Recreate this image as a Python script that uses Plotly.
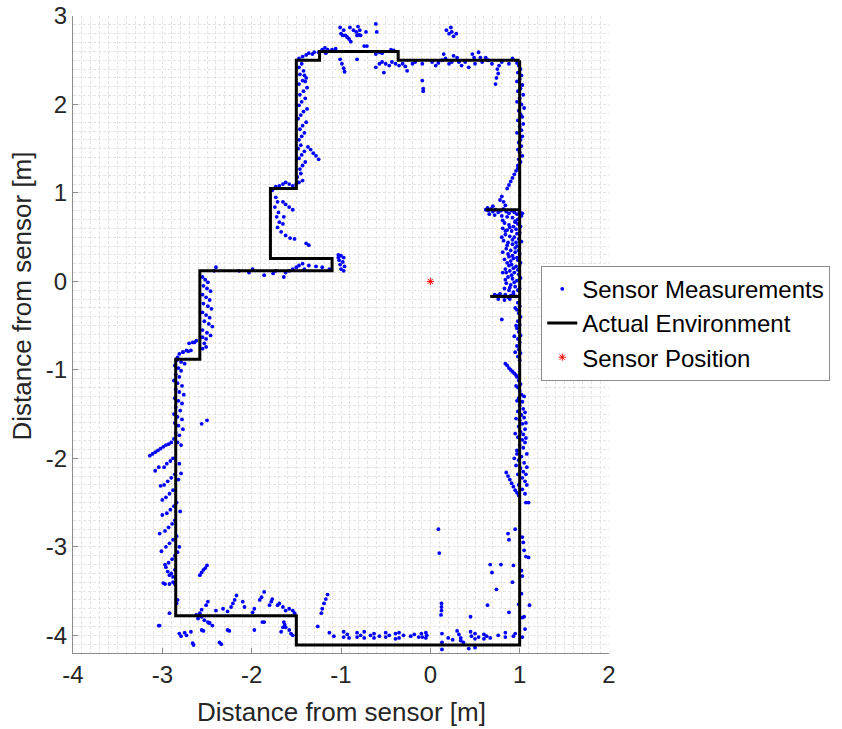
import plotly.graph_objects as go

# ---------------- data ----------------
# Actual environment outline (metres); None separates pieces
env_x = [1.0, 1.0, -1.5, -1.5, -2.85, -2.85, -2.58, -2.58, -1.1, -1.1, -1.79, -1.79, -1.5, -1.5, -1.24, -1.24, -0.36, -0.36, 1.0,
         None, 0.62, 1.0, None, 0.67, 1.0]
env_y = [2.5, -4.11, -4.11, -3.78, -3.78, -0.88, -0.88, 0.12, 0.12, 0.26, 0.26, 1.05, 1.05, 2.5, 2.5, 2.6, 2.6, 2.5, 2.5,
         None, 0.81, 0.81, None, -0.17, -0.17]

sensor_x = [0.0]
sensor_y = [0.0]

# axis ticks
x_ticks = [-4, -3, -2, -1, 0, 1, 2]
x_tick_labels = ["-4", "-3", "-2", "-1", "0", "1", "2"]
y_ticks = [-4, -3, -2, -1, 0, 1, 2, 3]
y_tick_labels = ["-4", "-3", "-2", "-1", "0", "1", "2", "3"]

# Sensor measurements, grouped by region: (x, y) in metres
meas_top = [
    (-1.01, 2.87), (-0.97, 2.84), (-0.90, 2.87), (-0.86, 2.84), (-0.81, 2.88), (-0.79, 2.84), (-0.72, 2.82),
    (-0.61, 2.91), (-0.60, 2.82), (-1.00, 2.80), (-0.98, 2.78), (-0.95, 2.78), (-0.93, 2.76), (-0.91, 2.74),
    (-0.89, 2.71), (-0.82, 2.78), (-0.80, 2.79), (-0.78, 2.78), (-0.83, 2.82),
    (0.18, 2.84), (0.23, 2.87), (0.24, 2.82), (0.21, 2.80), (0.29, 2.80), (0.26, 2.77),
    (-1.47, 2.52), (-1.43, 2.54), (-1.39, 2.56), (-1.36, 2.58), (-1.32, 2.57), (-1.30, 2.59), (-1.25, 2.59),
    (-1.21, 2.62), (-1.18, 2.64), (-1.15, 2.62), (-1.17, 2.58), (-1.10, 2.62), (-1.06, 2.63),
    (-0.74, 2.66), (-0.71, 2.66), (-0.61, 2.57), (-0.57, 2.59), (-0.54, 2.58), (-0.44, 2.62), (-0.41, 2.61),
    (-1.01, 2.51), (-0.99, 2.46), (-0.97, 2.41), (-0.96, 2.37), (-0.82, 2.51), (-0.61, 2.42), (-0.57, 2.46),
    (-0.54, 2.48), (-0.50, 2.46), (-0.52, 2.36), (-0.46, 2.44), (-0.43, 2.48), (-0.39, 2.46), (-0.35, 2.44),
    (-0.31, 2.46), (-0.28, 2.43), (-0.26, 2.38), (-0.20, 2.46), (-0.17, 2.48), (-0.09, 2.46), (-0.09, 2.27),
    (-0.08, 2.18), (-0.08, 2.15),
    (0.02, 2.48), (0.06, 2.44), (0.09, 2.47), (0.13, 2.50), (0.15, 2.57), (0.17, 2.52), (0.21, 2.46),
    (0.24, 2.48), (0.26, 2.55), (0.30, 2.53), (0.32, 2.48), (0.35, 2.44), (0.39, 2.48), (0.43, 2.42),
    (0.47, 2.57), (0.49, 2.53), (0.50, 2.46), (0.54, 2.59), (0.56, 2.53), (0.58, 2.48), (0.62, 2.53),
    (0.65, 2.50), (0.69, 2.46), (0.75, 2.40), (0.76, 2.35), (0.73, 2.23), (0.80, 2.48), (0.88, 2.46),
    (0.74, 2.30), (0.77, 2.44), (0.92, 2.52),
]

meas_right = [
    (0.97, 2.47), (0.99, 2.44), (1.01, 2.40), (0.98, 2.36), (1.02, 2.33), (1.00, 2.29), (0.97, 2.26),
    (1.03, 2.22), (1.01, 2.18), (0.98, 2.15), (1.04, 2.11), (1.00, 2.07), (0.97, 2.03), (1.02, 2.00),
    (1.05, 1.96), (0.99, 1.93), (1.01, 1.89), (1.03, 1.86), (0.98, 1.82), (1.04, 1.78), (1.00, 1.75),
    (1.02, 1.71), (0.97, 1.68), (1.03, 1.64), (1.01, 1.60), (0.99, 1.57), (1.02, 1.53), (0.98, 1.49),
    (1.00, 1.46), (1.03, 1.42), (0.99, 1.38), (1.01, 1.35), (0.98, 1.31),
    (0.98, 1.28), (0.96, 1.25), (0.94, 1.21), (0.92, 1.17), (0.90, 1.13), (0.88, 1.09), (0.86, 1.05),
    (0.80, 0.96), (0.78, 0.92), (0.82, 0.90),
    (0.62, 0.81), (0.65, 0.80), (0.68, 0.82), (0.70, 0.79), (0.73, 0.81), (0.76, 0.78), (0.79, 0.80),
    (0.82, 0.82), (0.85, 0.79), (0.88, 0.77), (0.91, 0.80), (0.94, 0.78), (0.97, 0.76), (1.00, 0.79),
    (1.03, 0.77), (0.66, 0.76), (0.72, 0.75), (0.80, 0.74), (0.86, 0.73), (0.92, 0.72), (0.98, 0.70),
    (0.70, 0.85), (0.64, 0.83), (0.84, 0.86), (1.02, 0.74), (0.95, 0.68),
    (0.83, 0.66), (0.88, 0.64), (0.93, 0.62), (0.98, 0.65), (0.81, 0.60), (0.86, 0.58), (0.91, 0.57),
    (0.96, 0.59), (1.00, 0.55), (0.84, 0.53), (0.89, 0.51), (0.94, 0.50), (0.99, 0.48), (0.82, 0.46),
    (0.87, 0.44), (0.92, 0.42), (0.97, 0.40), (0.85, 0.37), (0.90, 0.35), (0.95, 0.33), (1.00, 0.31),
    (0.88, 0.28), (0.93, 0.26), (0.98, 0.24), (0.86, 0.21), (0.91, 0.19), (0.96, 0.17), (0.84, 0.14),
    (0.89, 0.12), (0.94, 0.10), (0.99, 0.08), (0.87, 0.05), (0.92, 0.03), (0.97, 0.01), (0.85, -0.02),
    (0.90, -0.04), (0.95, -0.06), (1.00, -0.08), (0.88, -0.10), (0.93, -0.12),
    (0.81, 0.69), (0.95, 0.67), (0.89, 0.61), (1.01, 0.62), (0.84, 0.57), (0.97, 0.54), (0.80, 0.50),
    (0.92, 0.47), (1.02, 0.45), (0.86, 0.41), (0.95, 0.38), (0.81, 0.33), (0.99, 0.35), (0.87, 0.31),
    (0.92, 0.29), (0.97, 0.27), (0.83, 0.25), (1.01, 0.21), (0.88, 0.18), (0.93, 0.15), (0.98, 0.13),
    (0.81, 0.10), (0.91, 0.07), (1.01, 0.04), (0.84, 0.02), (0.94, -0.01), (0.89, -0.07), (0.98, -0.10),
    (0.83, -0.08), (0.96, 0.44), (0.90, 0.23), (0.85, 0.10),
    (0.72, -0.15), (0.75, -0.16), (0.78, -0.14), (0.81, -0.17), (0.84, -0.15), (0.87, -0.18), (0.90, -0.16),
    (0.93, -0.14), (0.96, -0.17), (0.76, -0.20), (0.83, -0.21), (0.89, -0.20),
    (0.98, -0.24), (1.00, -0.28), (0.97, -0.32), (0.99, -0.36), (0.80, -0.43), (1.01, -0.40), (0.98, -0.45),
    (1.00, -0.49), (0.97, -0.53), (0.99, -0.57), (1.01, -0.61), (0.98, -0.65), (1.00, -0.69), (0.97, -0.73),
    (0.99, -0.77), (1.01, -0.81), (0.98, -0.85), (1.00, -0.89),
    (0.95, -0.30), (0.96, -0.50), (0.94, -0.62), (0.95, -0.80),
    (0.84, -0.93), (0.86, -0.95), (0.88, -0.98), (0.90, -1.00), (0.92, -1.02), (0.94, -1.04), (0.96, -1.06),
    (0.97, -1.08),
    (0.99, -1.12), (1.01, -1.16), (0.98, -1.20), (1.00, -1.24), (1.02, -1.28), (0.99, -1.32), (1.03, -1.36),
    (1.00, -1.40), (1.04, -1.44), (0.98, -1.47), (1.02, -1.51), (1.05, -1.54), (1.00, -1.57), (1.03, -1.61),
    (0.99, -1.64), (1.06, -1.67), (1.01, -1.70), (1.04, -1.73), (0.98, -1.76), (1.03, -1.79), (1.06, -1.82),
    (1.00, -1.85), (1.04, -1.88), (0.97, -1.91),
    (0.96, -1.18), (0.97, -1.35), (1.05, -1.30), (1.06, -1.48), (0.96, -1.55), (1.07, -1.60), (0.95, -1.72),
    (1.07, -1.77), (1.08, -1.95), (0.94, -2.00), (1.08, -2.10), (1.07, -2.18), (1.08, -2.30), (1.06, -2.40),
    (0.97, -1.95), (1.02, -1.98), (0.99, -2.02), (1.05, -2.05), (0.96, -2.08), (1.01, -2.11), (1.04, -2.15),
    (0.98, -2.18), (1.03, -2.22), (1.06, -2.26), (0.99, -2.30), (1.03, -2.35), (1.07, -2.50), (1.10, -2.50),
    (0.85, -2.16), (0.87, -2.20), (0.89, -2.24), (0.91, -2.28), (0.93, -2.32), (0.95, -2.36), (0.97, -2.39),
    (0.99, -2.42),
    (0.95, -2.80), (0.87, -2.85), (0.88, -2.92), (1.03, -2.89), (1.04, -2.95), (1.05, -3.04), (1.07, -3.11),
    (1.10, -3.12), (0.67, -3.20), (0.79, -3.20), (0.69, -3.29), (0.93, -3.21), (1.02, -3.27), (1.03, -3.33),
    (0.74, -3.48), (0.92, -3.40), (1.02, -3.53), (0.64, -3.66), (0.99, -3.65), (1.11, -3.66), (0.88, -3.74),
    (1.03, -3.80), (1.05, -3.79), (1.06, -3.93), (1.03, -4.02),
]

meas_inside = [
    (0.09, -2.80), (0.10, -3.07), (0.125, -3.64), (0.125, -3.68), (0.125, -3.72), (0.12, -3.77), (0.45, -3.79),
]

meas_bottom = [
    (-1.13, -3.97), (-1.08, -4.01), (-0.97, -3.96), (-0.97, -4.02), (-0.93, -3.99), (-0.91, -4.03),
    (-0.82, -3.97), (-0.82, -4.02), (-0.78, -4.00), (-0.74, -3.96), (-0.74, -4.03), (-0.67, -4.00),
    (-0.63, -3.98), (-0.63, -4.03), (-0.57, -4.01), (-0.50, -3.97), (-0.50, -4.02), (-0.46, -4.00),
    (-0.39, -3.98), (-0.39, -4.04), (-0.35, -3.97), (-0.35, -4.03), (-0.30, -4.00), (-0.22, -4.01),
    (-0.18, -3.99), (-0.09, -4.02), (-0.05, -3.97), (-0.05, -4.03), (-0.04, -4.00), (0.13, -3.98),
    (0.13, -4.08), (0.13, -4.16), (0.30, -3.95), (0.32, -3.99), (0.34, -4.03), (0.34, -4.06), (0.37, -4.08),
    (0.45, -3.96), (0.46, -4.01), (0.50, -3.98), (0.50, -4.04), (0.54, -4.02), (0.60, -3.99), (0.60, -4.04),
    (0.63, -4.01), (0.67, -4.03), (0.76, -4.00), (0.84, -3.97), (0.84, -4.02), (0.93, -4.01), (0.95, -3.98),
    (0.43, -4.15), (0.50, -4.14), (0.20, -4.03), (0.25, -4.05), (-0.13, -4.02), (-0.10, -3.98),
    (-1.26, -3.90), (-1.15, -3.54), (-1.17, -3.59), (-1.19, -3.64), (-1.21, -3.70), (-1.22, -3.75),
]

meas_bottom_left = [
    (-2.96, -3.23), (-2.94, -3.28), (-2.92, -3.32), (-2.90, -3.30), (-2.88, -3.34), (-2.86, -3.26),
    (-2.88, -3.40), (-2.92, -3.42), (-2.97, -3.42), (-2.99, -3.41), (-2.86, -3.42),
    (-2.58, -3.32), (-2.56, -3.29), (-2.54, -3.26), (-2.52, -3.24), (-2.50, -3.21),
    (-2.83, -3.60), (-2.84, -3.64), (-2.92, -3.75), (-3.03, -3.89),
    (-2.81, -3.98), (-2.75, -3.97), (-2.68, -3.96), (-2.56, -3.94), (-2.66, -4.09), (-2.47, -3.86),
    (-2.27, -3.94), (-2.36, -4.08), (-1.97, -3.94), (-1.88, -3.85),
    (-2.62, -3.77), (-2.58, -3.75), (-2.56, -3.79), (-2.60, -3.81), (-2.53, -3.83), (-2.49, -3.85),
    (-2.56, -3.71), (-2.51, -3.66), (-2.49, -3.62), (-2.40, -3.72), (-2.32, -3.70), (-2.27, -3.73),
    (-2.23, -3.68), (-2.21, -3.64), (-2.19, -3.60), (-2.17, -3.55), (-2.10, -3.62), (-2.08, -3.68),
    (-1.99, -3.74), (-1.97, -3.70), (-1.91, -3.60), (-1.89, -3.57), (-1.86, -3.51), (-1.80, -3.66),
    (-1.78, -3.62), (-1.77, -3.59), (-1.71, -3.66), (-1.69, -3.64), (-1.65, -3.68), (-1.62, -3.72),
    (-1.58, -3.70), (-1.54, -3.72), (-1.52, -3.75), (-1.64, -3.85), (-1.62, -3.91), (-1.58, -3.94),
    (-1.56, -3.98), (-1.54, -4.00), (-1.67, -3.96),
    (-3.04, -3.89), (-2.79, -4.01), (-2.73, -4.00), (-2.65, -4.11), (-2.54, -3.95), (-2.48, -3.86),
    (-2.44, -3.89), (-2.34, -4.10), (-2.25, -3.95), (-1.86, -3.85), (-1.65, -3.91), (-1.63, -3.88),
]

meas_left = [
    (-2.81, -0.82), (-2.77, -0.80), (-2.71, -0.79), (-2.68, -0.78), (-2.83, -0.86), (-2.84, -0.89),
    (-2.55, -0.63), (-2.51, -0.65), (-2.53, -0.70), (-2.51, -0.74), (-2.55, -0.76), (-2.64, -0.69),
    (-2.86, -0.95), (-2.82, -0.98), (-2.79, -1.01), (-2.85, -1.05), (-2.81, -1.08), (-2.87, -1.12),
    (-2.83, -1.15), (-2.78, -1.18), (-2.85, -1.22), (-2.81, -1.25), (-2.76, -1.28), (-2.86, -1.32),
    (-2.82, -1.35), (-2.78, -1.38), (-2.85, -1.42), (-2.80, -1.46), (-2.87, -1.50), (-2.83, -1.53),
    (-2.78, -1.56), (-2.86, -1.60), (-2.82, -1.63), (-2.77, -1.67), (-2.85, -1.71), (-2.81, -1.74),
    (-2.87, -1.78), (-2.83, -1.82), (-2.79, -1.85),
    (-2.56, -1.61), (-2.50, -1.57),
    (-3.14, -1.97), (-3.11, -1.95), (-3.08, -1.93), (-3.05, -1.91), (-3.02, -1.89), (-2.99, -1.87),
    (-2.96, -1.85), (-2.93, -1.84), (-2.90, -1.82),
    (-2.88, -2.00), (-2.91, -2.03), (-2.95, -2.06), (-2.98, -2.10), (-3.04, -2.10), (-3.08, -2.14),
    (-2.86, -2.18), (-2.90, -2.22), (-2.94, -2.26), (-2.98, -2.30), (-3.02, -2.31),
    (-2.88, -2.36), (-2.92, -2.40), (-2.96, -2.44), (-3.00, -2.47),
    (-2.84, -2.50), (-2.87, -2.54), (-2.91, -2.58), (-2.95, -2.62), (-3.00, -2.64),
    (-2.86, -2.70), (-2.89, -2.74), (-2.93, -2.78), (-2.97, -2.82), (-3.03, -2.85),
    (-2.84, -2.88), (-2.88, -2.92), (-2.92, -2.96), (-2.96, -3.00), (-3.01, -3.05),
    (-2.83, -3.06), (-2.86, -3.10), (-2.89, -3.14), (-2.93, -3.18), (-2.97, -3.20),
    (-2.82, -2.24), (-2.80, -2.60), (-2.81, -3.00), (-2.79, -2.17), (-2.81, -2.06),
]

meas_step = [
    (-2.55, 0.05), (-2.52, 0.02), (-2.49, -0.01), (-2.54, -0.05), (-2.50, -0.08), (-2.46, -0.11),
    (-2.55, -0.15), (-2.51, -0.18), (-2.47, -0.21), (-2.54, -0.25), (-2.49, -0.28), (-2.45, -0.31),
    (-2.55, -0.35), (-2.51, -0.38), (-2.47, -0.41), (-2.53, -0.45), (-2.48, -0.48), (-2.44, -0.51),
    (-2.55, -0.55), (-2.50, -0.58), (-2.46, -0.61),
    (-2.62, -0.67), (-2.66, -0.69), (-2.70, -0.70), (-2.73, -0.78), (-2.77, -0.80), (-2.79, -0.91),
    (-2.75, -0.93),
    (-2.40, 0.16), (-2.42, 0.12), (-2.14, 0.12), (-2.03, 0.10), (-1.99, 0.14), (-1.86, 0.07), (-1.76, 0.09),
    (-1.73, 0.12), (-1.64, 0.05), (-1.62, 0.10), (-1.58, 0.12), (-1.54, 0.14), (-1.50, 0.16), (-1.47, 0.18),
    (-1.43, 0.20), (-1.41, 0.14), (-1.36, 0.18), (-1.28, 0.17), (-1.21, 0.16), (-1.13, 0.14),
    (-1.03, 0.30), (-1.00, 0.29), (-0.97, 0.27), (-1.02, 0.24), (-0.98, 0.22), (-1.01, 0.19), (-0.96, 0.17),
    (-1.00, 0.14), (-0.97, 0.12), (-1.03, 0.27),
    (-1.73, 0.95), (-1.71, 0.90), (-1.74, 0.84), (-1.70, 0.78), (-1.72, 0.73), (-1.69, 0.67), (-1.71, 0.61),
    (-1.67, 0.56), (-1.65, 0.90), (-1.62, 0.87), (-1.58, 0.84), (-1.54, 0.81), (-1.64, 0.73), (-1.65, 0.65),
    (-1.62, 0.52), (-1.57, 0.49), (-1.52, 0.48), (-1.39, 0.43), (-1.36, 0.41),
    (-1.77, 1.03), (-1.73, 1.07), (-1.69, 1.08), (-1.65, 1.10), (-1.62, 1.12), (-1.58, 1.10), (-1.54, 1.08),
    (-1.50, 1.10), (-1.47, 1.12), (-1.43, 1.14), (-1.49, 1.18), (-1.45, 1.22),
]

meas_upper_left = [
    (-1.46, 1.27), (-1.43, 1.31), (-1.40, 1.35), (-1.47, 1.39), (-1.44, 1.43), (-1.41, 1.47), (-1.48, 1.50),
    (-1.45, 1.54), (-1.37, 1.52), (-1.34, 1.49), (-1.31, 1.45), (-1.28, 1.42), (-1.25, 1.38),
    (-1.47, 1.60), (-1.44, 1.64), (-1.41, 1.68), (-1.46, 1.72), (-1.43, 1.76), (-1.39, 1.80), (-1.48, 1.84),
    (-1.45, 1.88), (-1.42, 1.92), (-1.38, 1.95), (-1.47, 1.99), (-1.44, 2.03), (-1.40, 2.07), (-1.46, 2.11),
    (-1.42, 2.15), (-1.38, 2.19), (-1.47, 2.23), (-1.43, 2.27), (-1.39, 2.30), (-1.46, 2.34), (-1.42, 2.38),
    (-1.47, 2.42), (-1.44, 2.46), (-1.41, 2.33), (-1.40, 2.26),
]

# ---------------- build figure ----------------
all_meas = meas_top + meas_right + meas_inside + meas_bottom + meas_bottom_left + meas_left + meas_step + meas_upper_left
meas_x = [p[0] for p in all_meas]
meas_y = [p[1] for p in all_meas]

fig = go.Figure()
fig.add_trace(go.Scatter(
    x=meas_x, y=meas_y, mode="markers", name="Sensor Measurements",
    marker=dict(color="#0000ff", size=3.8, line=dict(width=0)),
))
fig.add_trace(go.Scatter(
    x=env_x, y=env_y, mode="lines", name="Actual Environment",
    line=dict(color="black", width=3), connectgaps=False,
))
fig.add_trace(go.Scatter(
    x=sensor_x, y=sensor_y, mode="markers", name="Sensor Position",
    marker=dict(symbol="asterisk-open", color="red", size=6, line=dict(color="red", width=1)),
))

FONT = "Liberation Sans, Arial, sans-serif"
axis_common = dict(
    showgrid=True, gridcolor="#e4e4e4", gridwidth=1, griddash="3px,2px",
    zeroline=False, showline=True, linecolor="#8c8c8c", linewidth=1,
    ticks="inside", ticklen=5, tickcolor="#8c8c8c",
    tickfont=dict(family=FONT, size=24, color="#262626"),
    mirror=False, automargin=False,
    minor=dict(dtick=0.1, tick0=0, showgrid=True, gridcolor="#e4e4e4", griddash="3px,2px", gridwidth=1, ticks=""),
)

fig.update_layout(
    width=842, height=729,
    margin=dict(l=73, r=231, t=16, b=76),
    paper_bgcolor="white", plot_bgcolor="white",
    font=dict(family=FONT, color="#262626"),
    showlegend=True,
    legend=dict(
        x=0.8736, y=0.608, xanchor="left", yanchor="top",
        bgcolor="white", bordercolor="#8c8c8c", borderwidth=1,
        font=dict(family=FONT, size=24, color="#000000"),
        itemsizing="trace",
    ),
    xaxis=dict(range=[-4, 2], tickvals=x_ticks, ticktext=x_tick_labels, **axis_common),
    yaxis=dict(range=[-4.2, 3], tickvals=y_ticks, ticktext=y_tick_labels, **axis_common),
    annotations=[
        dict(text="Distance from sensor [m]", xref="paper", yref="paper", x=0.5, y=-0.0926,
             xanchor="center", yanchor="middle", showarrow=False,
             font=dict(family=FONT, size=26, color="#262626")),
        dict(text="Distance from sensor [m]", xref="paper", yref="paper", x=-0.0948, y=0.56,
             xanchor="center", yanchor="middle", showarrow=False, textangle=-90,
             font=dict(family=FONT, size=26, color="#262626")),
    ],
)

fig.write_html("out.html")
